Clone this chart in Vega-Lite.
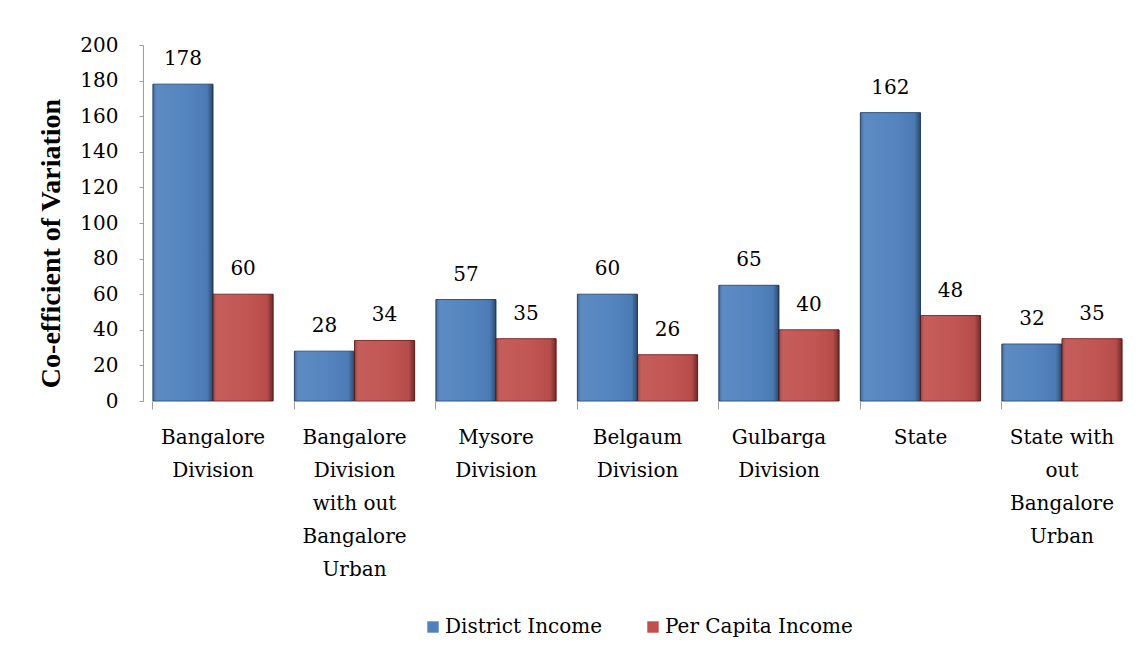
{
  "$schema": "https://vega.github.io/schema/vega-lite/v6.json",
  "width": 989,
  "height": 356,
  "autosize": "none",
  "padding": {"left": 143, "top": 45, "right": 16, "bottom": 265},
  "background": "white",
  "config": {
    "view": {"stroke": null},
    "font": "DejaVu Serif",
    "legend": {"layout": {"bottom": {"anchor": "middle"}}}
  },
  "data": {
    "values": [
      {"region": "Bangalore Division", "series": "District Income", "value": 178},
      {"region": "Bangalore Division", "series": "Per Capita Income", "value": 60},
      {"region": "Bangalore Division with out Bangalore Urban", "series": "District Income", "value": 28},
      {"region": "Bangalore Division with out Bangalore Urban", "series": "Per Capita Income", "value": 34},
      {"region": "Mysore Division", "series": "District Income", "value": 57},
      {"region": "Mysore Division", "series": "Per Capita Income", "value": 35},
      {"region": "Belgaum Division", "series": "District Income", "value": 60},
      {"region": "Belgaum Division", "series": "Per Capita Income", "value": 26},
      {"region": "Gulbarga Division", "series": "District Income", "value": 65},
      {"region": "Gulbarga Division", "series": "Per Capita Income", "value": 40},
      {"region": "State", "series": "District Income", "value": 162},
      {"region": "State", "series": "Per Capita Income", "value": 48},
      {"region": "State with out Bangalore Urban", "series": "District Income", "value": 32},
      {"region": "State with out Bangalore Urban", "series": "Per Capita Income", "value": 35}
    ]
  },
  "encoding": {
    "x": {
      "field": "region",
      "type": "nominal",
      "sort": null,
      "scale": {"paddingInner": 0.15, "paddingOuter": 0.07},
      "axis": {
        "title": null,
        "labelAngle": 0,
        "labelFont": "DejaVu Serif",
        "labelFontSize": 20,
        "labelColor": "#000000",
        "labelPadding": 18,
        "labelLineHeight": 33,
        "labelBaseline": "top",
        "bandPosition": 0,
        "domain": false,
        "tickColor": "#9e9e9e",
        "tickSize": 8,
        "labelExpr": "datum.label == 'Bangalore Division' ? ['Bangalore','Division'] : datum.label == 'Bangalore Division with out Bangalore Urban' ? ['Bangalore','Division','with out','Bangalore','Urban'] : datum.label == 'Mysore Division' ? ['Mysore','Division'] : datum.label == 'Belgaum Division' ? ['Belgaum','Division'] : datum.label == 'Gulbarga Division' ? ['Gulbarga','Division'] : datum.label == 'State with out Bangalore Urban' ? ['State with','out','Bangalore','Urban'] : datum.label"
      }
    },
    "xOffset": {"field": "series", "type": "nominal", "scale": {"paddingInner": 0.0}},
    "y": {
      "field": "value",
      "type": "quantitative",
      "scale": {"domain": [0, 200]},
      "axis": {
        "title": "Co-efficient of Variation",
        "titleFont": "Liberation Serif",
        "titleFontSize": 28,
        "titleFontWeight": "bold",
        "titleColor": "#000000",
        "titlePadding": 14,
        "titleY": 198,
        "values": [0, 20, 40, 60, 80, 100, 120, 140, 160, 180, 200],
        "labelFont": "DejaVu Serif",
        "labelFontSize": 20,
        "labelColor": "#000000",
        "labelPadding": 21,
        "grid": false,
        "domainColor": "#9e9e9e",
        "tickColor": "#9e9e9e",
        "tickSize": 4
      }
    },
    "color": {
      "field": "series",
      "type": "nominal",
      "scale": {"domain": ["District Income", "Per Capita Income"], "range": ["#4F81BD", "#C0504D"]},
      "legend": {
        "title": null,
        "orient": "bottom",
        "direction": "horizontal",
        "symbolType": "square",
        "symbolSize": 130,
        "symbolStrokeWidth": 0,
        "labelOffset": 2,
        "labelLimit": 400,
        "labelFont": "DejaVu Serif",
        "labelFontSize": 20,
        "labelColor": "#000000",
        "columnPadding": 40,
        "offset": 38
      }
    }
  },
  "layer": [
    {
      "mark": {"type": "bar", "strokeWidth": 1},
      "encoding": {
        "stroke": {
          "field": "series",
          "type": "nominal",
          "scale": {"domain": ["District Income", "Per Capita Income"], "range": ["#2f4f7f", "#7f2a28"]},
          "legend": null
        }
      }
    },
    {
      "mark": {
        "type": "bar",
        "fill": {
          "gradient": "linear",
          "x1": 0, "y1": 0, "x2": 1, "y2": 0,
          "stops": [
            {"offset": 0, "color": "rgba(0,0,0,0.25)"},
            {"offset": 0.08, "color": "rgba(255,255,255,0.08)"},
            {"offset": 0.5, "color": "rgba(255,255,255,0.04)"},
            {"offset": 0.9, "color": "rgba(0,0,0,0.05)"},
            {"offset": 1, "color": "rgba(0,0,0,0.45)"}
          ]
        },
        "stroke": null
      },
      "encoding": {"color": {"value": null}}
    },
    {
      "mark": {"type": "text", "baseline": "bottom", "dy": -15, "fontSize": 20, "font": "DejaVu Serif", "color": "#000000"},
      "encoding": {
        "text": {"field": "value", "type": "quantitative"},
        "color": {"value": "#000000"}
      }
    }
  ]
}
